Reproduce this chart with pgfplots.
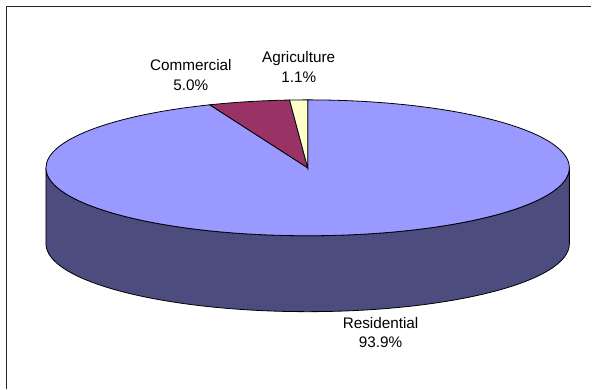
\documentclass[border=0pt]{standalone}
\usepackage{fontspec}
\setmainfont{Liberation Sans}
\usepackage{pgfplots}
\usepackage{pgfplotstable}
\pgfplotsset{compat=1.18}
\definecolor{restop}{HTML}{9999FF}
\definecolor{resside}{HTML}{4C4C7F}
\definecolor{comm}{HTML}{993366}
\definecolor{agri}{HTML}{FFFFCC}
\pgfplotstableread{
label value
Residential 93.9
Commercial 5.0
Agriculture 1.1
}\piedata
\begin{document}
\begin{tikzpicture}
\pgfplotstablegetelem{0}{value}\of\piedata \let\vRes\pgfplotsretval
\pgfplotstablegetelem{1}{value}\of\piedata \let\vCom\pgfplotsretval
\pgfplotstablegetelem{2}{value}\of\piedata \let\vAgr\pgfplotsretval
\pgfmathsetmacro{\aA}{90}
\pgfmathsetmacro{\aB}{90-3.6*\vRes}
\pgfmathsetmacro{\aC}{\aB-3.6*\vCom}
\pgfmathsetmacro{\aD}{\aC-3.6*\vAgr}
\def\cx{308}\def\cy{221}\def\rx{262}\def\ry{68}\def\dd{76}
\begin{axis}[
  width=592bp, height=389bp, scale only axis,
  xmin=0, xmax=592, ymin=0, ymax=389,
  hide axis, clip=false,
]
\fill[white] (axis cs:0,0) rectangle (axis cs:592,389);
\draw[black!85, line width=1.3bp] (axis cs:6.7,0) -- (axis cs:6.7,382.3) -- (axis cs:592,382.3);
% side
\filldraw[fill=resside, draw=black, line width=0.8bp]
  (axis cs:\cx-\rx,\cy) -- (axis cs:\cx-\rx,\cy-\dd)
  arc[start angle=180, end angle=360, x radius=\rx, y radius=\ry]
  -- (axis cs:\cx+\rx,\cy)
  arc[start angle=0, end angle=-180, x radius=\rx, y radius=\ry] -- cycle;
% top slices
\filldraw[fill=restop, draw=black, line width=0.8bp]
  (axis cs:\cx,\cy) -- (axis cs:{\cx+\rx*cos(\aA)},{\cy+\ry*sin(\aA)})
  arc[start angle=\aA, end angle=\aB, x radius=\rx, y radius=\ry] -- cycle;
\filldraw[fill=comm, draw=black, line width=0.8bp]
  (axis cs:\cx,\cy) -- (axis cs:{\cx+\rx*cos(\aB)},{\cy+\ry*sin(\aB)})
  arc[start angle=\aB, end angle=\aC, x radius=\rx, y radius=\ry] -- cycle;
\filldraw[fill=agri, draw=black, line width=0.8bp]
  (axis cs:\cx,\cy) -- (axis cs:{\cx+\rx*cos(\aC)},{\cy+\ry*sin(\aC)})
  arc[start angle=\aC, end angle=\aD, x radius=\rx, y radius=\ry] -- cycle;
% labels
\begin{scope}[every node/.style={align=center, font=\fontsize{15.3bp}{19.5bp}\selectfont, inner sep=0pt}]
\node at (axis cs:191,389-75) {Commercial\\5.0\%};
\node at (axis cs:299,389-67) {Agriculture\\1.1\%};
\node at (axis cs:381,389-333) {Residential\\93.9\%};
\end{scope}
\end{axis}
\end{tikzpicture}
\end{document}
